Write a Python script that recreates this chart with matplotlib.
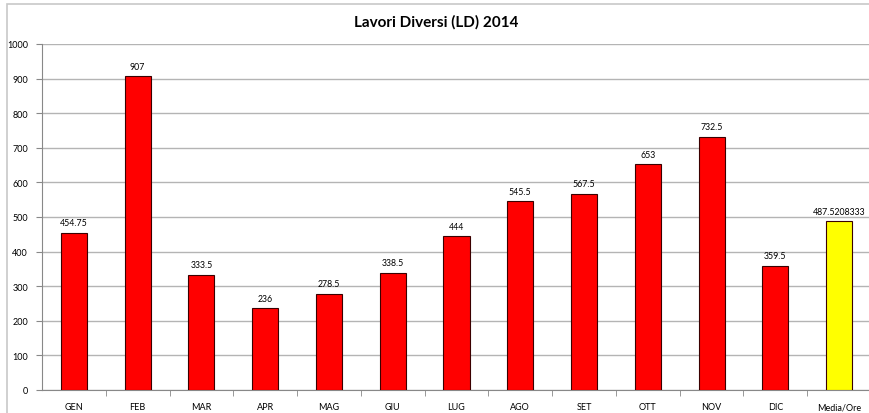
import matplotlib.pyplot as plt
from matplotlib.patches import Rectangle

plt.rcParams['font.family'] = ['Lato', 'DejaVu Sans']

months = ['GEN', 'FEB', 'MAR', 'APR', 'MAG', 'GIU', 'LUG', 'AGO', 'SET', 'OTT', 'NOV', 'DIC', 'Media/Ore']
hours = [454.75, 907, 333.5, 236, 278.5, 338.5, 444, 545.5, 567.5, 653, 732.5, 359.5, 487.5208333]
value_labels = ['454.75', '907', '333.5', '236', '278.5', '338.5', '444', '545.5', '567.5',
                '653', '732.5', '359.5', '487.5208333']
colors = ['#ff0000'] * 12 + ['#ffff00']

fig = plt.figure(figsize=(8.7, 4.14), dpi=100)
# outer chart frame
fig.patches.append(Rectangle((7 / 870, -0.1), 1.1, 1.1 - 5 / 414, transform=fig.transFigure,
                             fill=False, edgecolor='#c8c8c8', linewidth=1.2))

ax = fig.add_axes([42 / 870, 23 / 414, 829 / 870, 346 / 414])
x = range(len(months))
ax.bar(x, hours, width=0.41, color=colors, edgecolor='#3a0000', linewidth=0.8, zorder=3)
for xi, v, lab in zip(x, hours, value_labels):
    ax.annotate(lab, (xi, v), xytext=(0, 4), textcoords='offset points',
                ha='center', va='bottom', fontsize=6.3)

ax.set_xlim(-0.5, len(months) - 0.5)
ax.set_ylim(0, 1000)
ax.set_yticks(range(0, 1001, 100))
ax.yaxis.grid(True, color='#b4b4b4', linewidth=1.0, zorder=0)
ax.set_xticks(x)
ax.set_xticklabels(months)
ax.set_xticks([i + 0.5 for i in range(len(months) - 1)], minor=True)
ax.tick_params(axis='x', which='major', length=0, labelsize=6.5, pad=9)
ax.tick_params(axis='x', which='minor', length=4, color='#888888')
ax.tick_params(axis='y', length=4, labelsize=6.5, color='#888888', pad=6)
for s in ['top', 'right']:
    ax.spines[s].set_visible(False)
for s in ['left', 'bottom']:
    ax.spines[s].set_color('#888888')

fig.text(436 / 870, 1 - 22 / 414, 'Lavori Diversi (LD) 2014', ha='center', va='center',
         fontsize=11, fontweight='bold')

fig.savefig('out.png', dpi=100)
